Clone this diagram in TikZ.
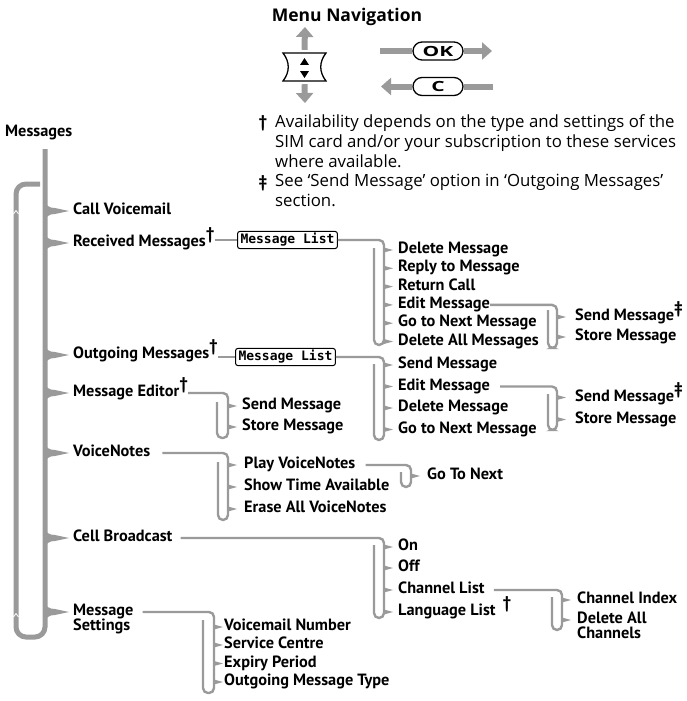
\documentclass[tikz,border=0pt]{standalone}
\usepackage{fontspec}
\setmainfont{PT Sans}
\newfontfamily\notefont{Open Sans}
\newfontfamily\lcdfont{DejaVu Sans Mono}
\usetikzlibrary{arrows.meta, positioning, calc}
\definecolor{linegray}{HTML}{9A9A9A}
\newcommand{\supdag}{\raisebox{0.42em}{\fontsize{17}{17}\selectfont †}}
\newcommand{\supddag}{\raisebox{0.42em}{\fontsize{17}{17}\selectfont ‡}}

\begin{document}
\begin{tikzpicture}[x=1pt, y=-1pt,
    item/.style={anchor=west, inner sep=0pt, font=\bfseries\fontsize{16.3}{19}\selectfont, text height=0.9em, text depth=0.2em},
    note/.style={anchor=north west, inner sep=0pt, align=left, font=\notefont\fontsize{16.8}{20}\selectfont},
    mainline/.style={draw=linegray, line width=5pt, rounded corners=10pt},
    subline/.style={draw=linegray, line width=2.4pt, rounded corners=5pt},
    tipfill/.style={fill=linegray},
    lcdbox/.style={draw, line width=1pt, rounded corners=2.5pt, inner xsep=3pt, inner ysep=2pt, font=\lcdfont\bfseries\fontsize{13}{14}\selectfont},
    pill/.style={draw, line width=1.3pt, rounded corners=9pt, minimum width=50pt, minimum height=18pt, inner sep=0pt, fill=white, font=\notefont\bfseries\fontsize{14}{16}\selectfont},
    navline/.style={draw=linegray, line width=6pt},
    navarrow/.style={navline, -{Triangle[width=17pt,length=10pt]}}
  ]
  \useasboundingbox (0,0) rectangle (687,701);

  % Navigation keys
  \node[inner sep=0pt, font=\notefont\bfseries\fontsize{17.5}{20}\selectfont] (navtitle) at (347,17) {Menu Navigation};
  \node[minimum width=43pt, minimum height=28pt, inner sep=0pt] (navkey) at (304.5,67) {};
  \draw[line width=1.3pt] (283,53) -- (326,53) .. controls (319,62) and (319,72) .. (326,81) -- (283,81) .. controls (290,72) and (290,62) .. (283,53) -- cycle;
  \fill (300,65) -- (309,65) -- (304.5,58) -- cycle;
  \fill (300,71) -- (309,71) -- (304.5,78) -- cycle;
  \coordinate (navup) at (305,27);
  \coordinate (navdown) at (305,103);
  \draw[navarrow] ([yshift=3pt]navkey.north) -- (navup);
  \draw[navarrow] ([yshift=-3pt]navkey.south) -- (navdown);

  \node[pill] (ok) at (438,51) {\scalebox{1.5}[1]{OK}};
  \node[pill] (ckey) at (438,86.5) {\scalebox{1.5}[1]{C}};
  \coordinate (okin) at (380,51);
  \coordinate (okout) at (492,51);
  \coordinate (cout) at (381,86.5);
  \coordinate (cin) at (493,86.5);
  \draw[navline] (okin) -- (ok.west);
  \draw[navarrow] (ok.east) -- (okout);
  \draw[navarrow] (ckey.west) -- (cout);
  \draw[navline] (ckey.east) -- (cin);

  % Footnotes
  \node[inner sep=0pt, font=\bfseries\fontsize{17}{18}\selectfont] (dagnote) at (263,123) {†};
  \node[note] (availnote) at (275,114) {Availability depends on the type and settings of the\\SIM card and/or your subscription to these services\\where available.};
  \node[inner sep=0pt, font=\bfseries\fontsize{17}{18}\selectfont] (ddagnote) at (263,183) {‡};
  \node[note] (sendnote) at (275,174) {See ‘Send Message’ option in ‘Outgoing Messages’\\section.};

  % Main menu
  \node[item] (msgs) at (5,133) {Messages};
  \node[item] (cv) at (73,211) {Call Voicemail};
  \node[item] (rm) at (73,243) {Received Messages\supdag};
  \node[item] (om) at (73,355) {Outgoing Messages\supdag};
  \node[item] (me) at (73,393) {Message Editor\supdag};
  \node[item] (vn) at (73,453) {VoiceNotes};
  \node[item] (cb) at (73,538) {Cell Broadcast};
  \node[item] (ms) at (73,612) {Message};
  \node[item, below=4pt of ms.south west, anchor=north west] (ms2) {Settings};

  \coordinate (brtop) at (45,149);
  \draw[mainline] (40,184) -- (16,184) -- (16,637) -- (45,637) -- (brtop);
  \foreach \y in {211,243,355,393,453,538,612}
    \fill[tipfill] (45,\y-13) .. controls (45,\y-5) and (49,\y-3) .. (55,\y-3) -- (69,\y) -- (55,\y+3) .. controls (49,\y+3) and (45,\y+5) .. (45,\y+13) -- cycle;
  \draw[white, line width=0.8pt] (13.5,214) -- (16,210.5) -- (18.5,214);
  \draw[white, line width=0.8pt] (13.5,617) -- (16,613.5) -- (18.5,617);

  % Received Messages
  \node[lcdbox, anchor=west] (rlist) at (237,240) {Message List};
  \draw[subline] (rm.east |- rlist.west) -- (rlist.west);
  \coordinate (rbot) at (384,345);
  \draw[subline] (rlist.east) -| (rbot) -- ++(-10,0) -- ++(0,-97);
  \foreach \y in {250,268.3,286.6,304.9,323.2,341.5}
    \fill[tipfill] (384,\y-2.5) -- (393,\y) -- (384,\y+2.5) -- cycle;
  \node[item] (rl1) at (398,250) {Delete Message};
  \node[item] (rl2) at (398,268.3) {Reply to Message};
  \node[item] (rl3) at (398,286.6) {Return Call};
  \node[item] (rl4) at (398,304.9) {Edit Message};
  \node[item] (rl5) at (398,323.2) {Go to Next Message};
  \node[item] (rl6) at (398,341.5) {Delete All Messages};

  \coordinate (rebot) at (557,348);
  \draw[subline] (rl4.east) -| (rebot) -- ++(-9,0) -- ++(0,-38);
  \foreach \y in {317,337}
    \fill[tipfill] (557,\y-2.5) -- (566,\y) -- (557,\y+2.5) -- cycle;
  \node[item] (re1) at (575,317) {Send Message\supddag};
  \node[item] (re2) at (575,337) {Store Message};

  % Outgoing Messages
  \node[lcdbox, anchor=west] (olist) at (235,357) {Message List};
  \draw[subline] (om.east |- olist.west) -- (olist.west);
  \coordinate (obot) at (384,440);
  \draw[subline] (olist.east) -| (obot) -- ++(-10,0) -- ++(0,-76);
  \foreach \y in {365,386.5,408,429.5}
    \fill[tipfill] (384,\y-2.5) -- (393,\y) -- (384,\y+2.5) -- cycle;
  \node[item] (ol1) at (398,365) {Send Message};
  \node[item] (ol2) at (398,386.5) {Edit Message};
  \node[item] (ol3) at (398,408) {Delete Message};
  \node[item] (ol4) at (398,429.5) {Go to Next Message};

  \coordinate (oebot) at (557,430);
  \draw[subline] ([xshift=10pt]ol2.east) -| (oebot) -- ++(-9,0) -- ++(0,-36);
  \foreach \y in {397.5,419.5}
    \fill[tipfill] (557,\y-2.5) -- (566,\y) -- (557,\y+2.5) -- cycle;
  \node[item] (oe1) at (575,397.5) {Send Message\supddag};
  \node[item] (oe2) at (575,419.5) {Store Message};

  % Message Editor
  \coordinate (mebot) at (228,438);
  \draw[subline] (me.east) -| (mebot) -- ++(-11,0) -- ++(0,-36);
  \foreach \y in {406,427}
    \fill[tipfill] (228,\y-2.5) -- (237,\y) -- (228,\y+2.5) -- cycle;
  \node[item] (me1) at (242,406) {Send Message};
  \node[item] (me2) at (242,427) {Store Message};

  % VoiceNotes
  \coordinate (vnbot) at (228,520);
  \draw[subline] ([xshift=12pt]vn.east) -| (vnbot) -- ++(-10,0) -- ++(0,-58);
  \foreach \y in {465,487,509}
    \fill[tipfill] (228,\y-2.5) -- (237,\y) -- (228,\y+2.5) -- cycle;
  \node[item] (vn1) at (244,465) {Play VoiceNotes};
  \node[item] (vn2) at (244,487) {Show Time Available};
  \node[item] (vn3) at (244,509) {Erase All VoiceNotes};

  \coordinate (pvbot) at (411,487);
  \draw[subline] ([xshift=10pt]vn1.east) -| (pvbot) -- ++(-10,0) -- ++(0,-15);
  \fill[tipfill] (411,473.5) -- (420,476) -- (411,478.5) -- cycle;
  \node[item] (pv1) at (427,476) {Go To Next};

  % Cell Broadcast
  \coordinate (cbbot) at (384,618);
  \draw[subline] ([xshift=8pt]cb.east) -| (cbbot) -- ++(-10,0) -- ++(0,-73);
  \foreach \y in {547,568,590,612}
    \fill[tipfill] (384,\y-2.5) -- (393,\y) -- (384,\y+2.5) -- cycle;
  \node[item] (cb1) at (398,547) {On};
  \node[item] (cb2) at (398,568) {Off};
  \node[item] (cb3) at (398,590) {Channel List};
  \node[item] (cb4) at (398,612) {Language List\hspace{7pt}\supdag};

  \coordinate (clbot) at (562,630);
  \draw[subline] ([xshift=9pt]cb3.east) -| (clbot) -- ++(-10,0) -- ++(0,-33);
  \foreach \y in {600,620}
    \fill[tipfill] (562,\y-2.5) -- (571,\y) -- (562,\y+2.5) -- cycle;
  \node[item] (cl1) at (577,600) {Channel Index};
  \node[item] (cl2) at (577,620) {Delete All};
  \node[item, below=3.5pt of cl2.south west, anchor=north west] (cl3) {Channels};

  % Message Settings
  \coordinate (msbot) at (214,693);
  \draw[subline] ([xshift=9pt]ms.east) -| (msbot) -- ++(-11,0) -- ++(0,-73);
  \foreach \y in {627,645,663.5,682}
    \fill[tipfill] (214,\y-2.5) -- (223,\y) -- (214,\y+2.5) -- cycle;
  \node[item] (ms3) at (224,627) {Voicemail Number};
  \node[item] (ms4) at (224,645) {Service Centre};
  \node[item] (ms5) at (224,663.5) {Expiry Period};
  \node[item] (ms6) at (224,682) {Outgoing Message Type};
\end{tikzpicture}
\end{document}
